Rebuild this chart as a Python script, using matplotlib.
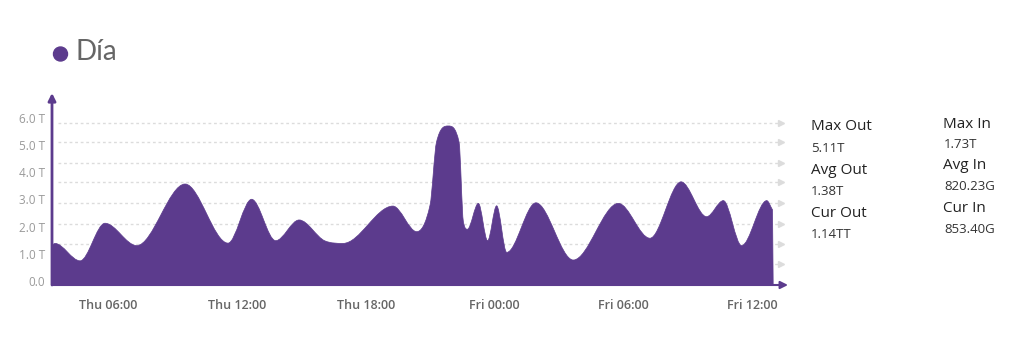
import numpy as np
import matplotlib
matplotlib.use("Agg")
import matplotlib.pyplot as plt
from matplotlib.path import Path
from matplotlib.patches import PathPatch, Circle

# ---------------- data ----------------
# hours since Thu 00:00
hours = [3.415, 3.53, 4.70, 5.86, 7.34, 9.59, 11.59, 12.69, 13.81, 14.90, 16.11,
         16.95, 19.27, 20.38, 21.00, 21.30, 21.85, 22.35, 22.55, 22.74, 23.25,
         23.68, 24.10, 24.57, 25.93, 27.67, 29.77, 31.24, 32.69, 33.88, 34.66,
         35.51, 36.68, 36.95]
traffic_T = [1.32, 1.38, 0.74, 2.12, 1.30, 3.56, 1.39, 3.00, 1.48, 2.24, 1.47,
             1.38, 2.75, 1.81, 2.79, 5.10, 5.69, 5.10, 2.18, 1.90, 2.85,
             1.48, 2.76, 1.05, 2.87, 0.77, 2.85, 1.57, 3.64, 2.36, 2.95,
             1.30, 2.95, 2.61]
x_tick_hours = [6, 12, 18, 24, 30, 36]
x_tick_labels = ["Thu 06:00", "Thu 12:00", "Thu 18:00", "Fri 00:00", "Fri 06:00", "Fri 12:00"]
y_ticks = [0, 1, 2, 3, 4, 5, 6]
y_tick_labels = ["0.0", "1.0 T", "2.0 T", "3.0 T", "4.0 T", "5.0 T", "6.0 T"]
grid_levels = [0.62, 1.36, 2.09, 2.85, 3.62, 4.33, 5.09, 5.81]
title = "Día"
stat_out_labels = ["Max Out", "Avg Out", "Cur Out"]
stat_out_values = ["5.11T", "1.38T", "1.14TT"]
stat_in_labels = ["Max In", "Avg In", "Cur In"]
stat_in_values = ["1.73T", "820.23G", "853.40G"]

PURPLE = "#5c3b8d"
W, H = 1024, 341

# ---------------- figure ----------------
fig = plt.figure(figsize=(W / 100, H / 100), dpi=100)

def px_axes(x0, y0, x1, y1):
    return [x0 / W, 1 - y1 / H, (x1 - x0) / W, (y1 - y0) / H]

ax = fig.add_axes(px_axes(52, 93, 788, 285))
ax.set_xlim(3.392, 37.67)
ax.set_ylim(-0.147, 6.90)
for s in ax.spines.values():
    s.set_visible(False)

# smooth cubic through the points (Catmull-Rom tangents, flat at extrema)
x = np.asarray(hours, float)
y = np.asarray(traffic_T, float)
n = len(x)
h = np.diff(x)
s = np.diff(y) / h
m = np.zeros(n)
for i in range(1, n - 1):
    if s[i - 1] * s[i] <= 0:
        m[i] = 0.0
    else:
        m[i] = (y[i + 1] - y[i - 1]) / (x[i + 1] - x[i - 1])
        # Fritsch-Carlson limit against overshoot
        for k in (i - 1, i):
            a = m[i] / s[k]
            if a > 3:
                m[i] = 3 * s[k]
m[0] = s[0]
m[-1] = s[-1]
ybot = ax.get_ylim()[0]
verts = [(x[0], ybot), (x[0], y[0])]
codes = [Path.MOVETO, Path.LINETO]
for i in range(n - 1):
    dx = h[i] / 3
    verts += [(x[i] + dx, y[i] + m[i] * dx), (x[i + 1] - dx, y[i + 1] - m[i + 1] * dx), (x[i + 1], y[i + 1])]
    codes += [Path.CURVE4] * 3
verts += [(x[-1] + 0.03, ybot), (x[0], ybot)]
codes += [Path.LINETO, Path.CLOSEPOLY]

# grid lines with arrow heads
for g in grid_levels:
    ax.plot([3.67, 37.2], [g, g], color="#dcdcdc", lw=1, ls=(0, (2, 2)), zorder=1)
    ax.plot([37.35], [g], marker=">", color="#dcdcdc", ms=5, zorder=1)

ax.add_patch(PathPatch(Path(verts, codes), facecolor=PURPLE, edgecolor=PURPLE, lw=0.5, zorder=2))

# axis arrows
ax.annotate("", xy=(0, 1), xytext=(0, 0), xycoords="axes fraction",
            arrowprops=dict(arrowstyle="-|>", color=PURPLE, lw=2, mutation_scale=11, shrinkA=0, shrinkB=0), zorder=3)
ax.annotate("", xy=(1, 0), xytext=(0, 0), xycoords="axes fraction",
            arrowprops=dict(arrowstyle="-|>", color=PURPLE, lw=1.5, mutation_scale=11, shrinkA=0, shrinkB=0), zorder=3)

ax.set_xticks(x_tick_hours)
ax.set_xticklabels(x_tick_labels, fontsize=9, color="#666666", fontfamily="Open Sans", fontweight="semibold")
ax.set_yticks(y_ticks)
ax.set_yticklabels(y_tick_labels, fontsize=8.5, color="#9a9a9a", fontfamily="Open Sans")
ax.tick_params(axis="x", length=0, pad=10)
ax.tick_params(axis="y", length=0, pad=5)

# overlay for header and stats
ov = fig.add_axes([0, 0, 1, 1], facecolor="none")
ov.set_xlim(0, W)
ov.set_ylim(H, 0)
ov.axis("off")
ov.add_patch(Circle((60.5, 54), 7.0, color=PURPLE))
ov.text(75, 52, title, fontsize=20, color="#666666", fontfamily="Lato", va="center", ha="left")

out_base = [130.5, 173.5, 216.7]
val_out_base = [152.0, 195.0, 238.3]
in_base = [128.3, 169.0, 211.7]
val_in_base = [148.3, 190.0, 233.3]
for lab, val, b1, b2 in zip(stat_out_labels, stat_out_values, out_base, val_out_base):
    ov.text(811, b1, lab, fontsize=11, color="#222222", fontfamily="Open Sans", va="baseline")
    ov.text(811, b2, val, fontsize=9.5, color="#333333", fontfamily="Open Sans", va="baseline")
for lab, val, b1, b2 in zip(stat_in_labels, stat_in_values, in_base, val_in_base):
    ov.text(943, b1, lab, fontsize=11, color="#222222", fontfamily="Open Sans", va="baseline")
    ov.text(944, b2, val, fontsize=9.5, color="#333333", fontfamily="Open Sans", va="baseline")

fig.savefig("out.png", dpi=100)
